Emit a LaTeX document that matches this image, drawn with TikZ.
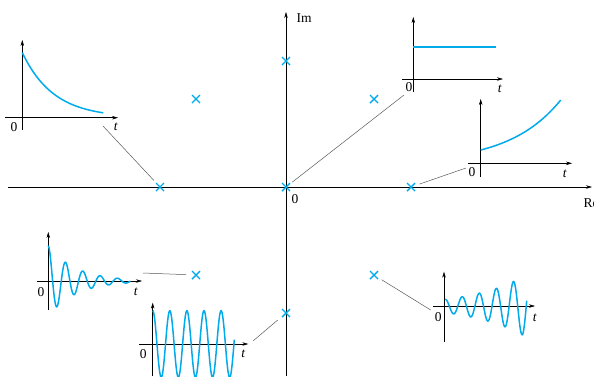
\documentclass[tikz,border=0pt]{standalone}
\usepackage{fontspec}
\setmainfont{Liberation Serif}
\usetikzlibrary{arrows.meta,shapes.misc}
\definecolor{polecyan}{RGB}{0,170,235}

\begin{document}
\begin{tikzpicture}[x=1pt,y=-1pt,font=\fontsize{13.5}{15}\selectfont,
    ax/.style={-{Stealth[length=6pt,width=3.5pt]},line width=0.5pt},
    pole/.style={cross out,draw=polecyan,line width=1.4pt,minimum size=8pt,inner sep=0pt,outer sep=0pt},
    resp/.style={polecyan,line width=1.5pt},
    link/.style={draw=black!65,line width=0.5pt,shorten >=9pt}]
    \useasboundingbox (0,0) rectangle (594,376);

    \draw[ax] (8,187) -- (592,187);
    \draw[ax] (286,376) -- (286,12);
    \node (im) at (304,18) {Im};
    \node[anchor=west] (re) at (580,203) {Re};
    \node (zero) at (295,199) {0};

    \node[pole] (p1) at (286,61) {};
    \node[pole] (p2) at (196,99) {};
    \node[pole] (p3) at (374,99) {};
    \node[pole] (p4) at (160,187) {};
    \node[pole] (p5) at (286,187) {};
    \node[pole] (p6) at (411,187) {};
    \node[pole] (p7) at (196,275) {};
    \node[pole] (p8) at (374,275) {};
    \node[pole] (p9) at (286,313) {};

    \draw[ax] (22.3,130) -- (22.3,40);
    \draw[ax] (5,117.7) -- (118,117.7);
    \draw[resp] plot[domain=0:81,samples=60] ({22.3+\x},{117.7-65*exp(-0.032*\x)});
    \node (o1) at (14,127) {0};
    \node (t1) at (116,127) {\textit{t}};
    \coordinate (g1) at (103,126);
    \draw[link] (g1) -- (p4.center);

    \draw[ax] (413.3,92) -- (413.3,17);
    \draw[ax] (402,79) -- (503,79);
    \draw[resp,line width=1.8pt] (413.3,46.7) -- (496,46.7);
    \node (o2) at (409,87) {0};
    \node (t2) at (500,89) {\textit{t}};
    \coordinate (g2) at (404,95);
    \draw[link,shorten >=8pt] (g2) -- (p5.center);

    \draw[ax] (480.7,177) -- (480.7,99);
    \draw[ax] (468,163.3) -- (572,163.3);
    \draw[resp] plot[domain=0:80,samples=60] ({480.7+\x},{163.3-13.3*exp(0.0195*\x)});
    \node (o3) at (472,172) {0};
    \node (t3) at (565,174) {\textit{t}};
    \coordinate (g3) at (466,168);
    \draw[link] (g3) -- (p6.center);

    \draw[ax] (48.3,310) -- (48.3,232);
    \draw[ax] (36.7,281) -- (142,281);
    \draw[resp] plot[domain=0:82,samples=200] ({48.3+\x},{281-35.3*exp(-0.0367*\x)*cos(20.81*\x)});
    \node (o4) at (41,292) {0};
    \node (t4) at (136,292) {\textit{t}};
    \coordinate (g4) at (143,273);
    \draw[link,shorten >=10pt] (g4) -- (p7.center);

    \draw[ax] (152.7,376) -- (152.7,302.7);
    \draw[ax] (139.3,344) -- (248.3,344);
    \draw[resp] plot[domain=0:81.6,samples=200] ({152.7+\x},{344-33.3*cos(21.05*\x)});
    \node (o5) at (143.3,354) {0};
    \node (t5) at (243.3,353.3) {\textit{t}};
    \coordinate (g5) at (253.3,340.7);
    \draw[link,shorten >=11pt] (g5) -- (p9.center);

    \draw[ax] (444,341.7) -- (444,271.7);
    \draw[ax] (433.3,306) -- (535,306);
    \draw[resp] plot[domain=0:81.7,samples=200] ({445+\x},{306-6.7*exp(0.0189*\x)*cos(21.05*\x)});
    \node (o6) at (438.3,316.7) {0};
    \node (t6) at (535,317.3) {\textit{t}};
    \coordinate (g6) at (430.7,310);
    \draw[link] (g6) -- (p8.center);
\end{tikzpicture}
\end{document}
